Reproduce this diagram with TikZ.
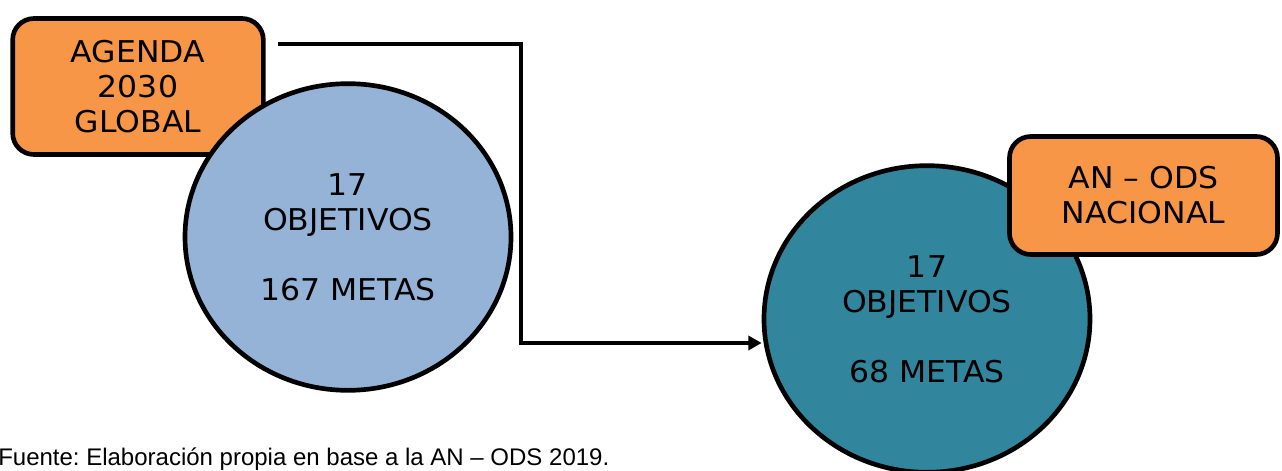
\documentclass[tikz,border=0pt]{standalone}
\usepackage{fontspec}
\setmainfont{DejaVu Sans}[FakeStretch=1.05]
\newfontfamily\capfont{Liberation Sans}
\usetikzlibrary{shapes.geometric,arrows.meta}
\definecolor{boxorange}{HTML}{F79646}
\definecolor{lightblue}{HTML}{95B3D7}
\definecolor{tealblue}{HTML}{31859C}
\frenchspacing
\tikzset{
  bigfont/.style={font=\fontsize{22.5}{26.25}\selectfont},
  orangebox/.style={draw=black, line width=3.5pt, fill=boxorange, rounded corners=16pt,
    align=center, inner sep=0pt, bigfont},
  ringnode/.style={ellipse, draw=black, line width=3.5pt, minimum width=244.5pt,
    minimum height=230pt, inner sep=0pt, align=center, bigfont},
  connector/.style={line width=3.3pt, black},
  connshadow/.style={line width=3.3pt, black!20},
}
\begin{document}
\begin{tikzpicture}[x=0.75pt,y=-0.75pt]
\useasboundingbox (0,0) rectangle (1282,471);
% left group
\node[orangebox, minimum width=188pt, minimum height=102pt] (agenda) at (138,86.5)
  {AGENDA\\2030\\GLOBAL};
\node[ringnode, fill=lightblue] (global) at (348,237)
  {17\\OBJETIVOS\\[26.25pt]167 METAS};
% right group
\node[ringnode, fill=tealblue] (nacional) at (927,319)
  {17\\OBJETIVOS\\[26.25pt]68 METAS};
\node[orangebox, minimum width=201pt, minimum height=88.5pt] (ands) at (1143.5,195.5)
  {AN – ODS\\NACIONAL};
% connector
\coordinate (start) at (278,44);
\coordinate (bend) at (521,343);
\coordinate (endpt) at (bend -| nacional.west);
\begin{scope}[shift={(2.5,2.5)}]
\draw[connshadow] (start) -| (bend) -- ([xshift=-12pt]endpt);
\end{scope}
\draw[connector, -{Triangle[length=10pt,width=10.5pt]}] (start) -| (bend) -- (endpt);
% caption
\node[anchor=base west, inner sep=0pt, font=\capfont\fontsize{18}{21}\selectfont] (fuente) at (-2,465)
  {Fuente: Elaboración propia en base a la AN – ODS 2019.};
\end{tikzpicture}
\end{document}
